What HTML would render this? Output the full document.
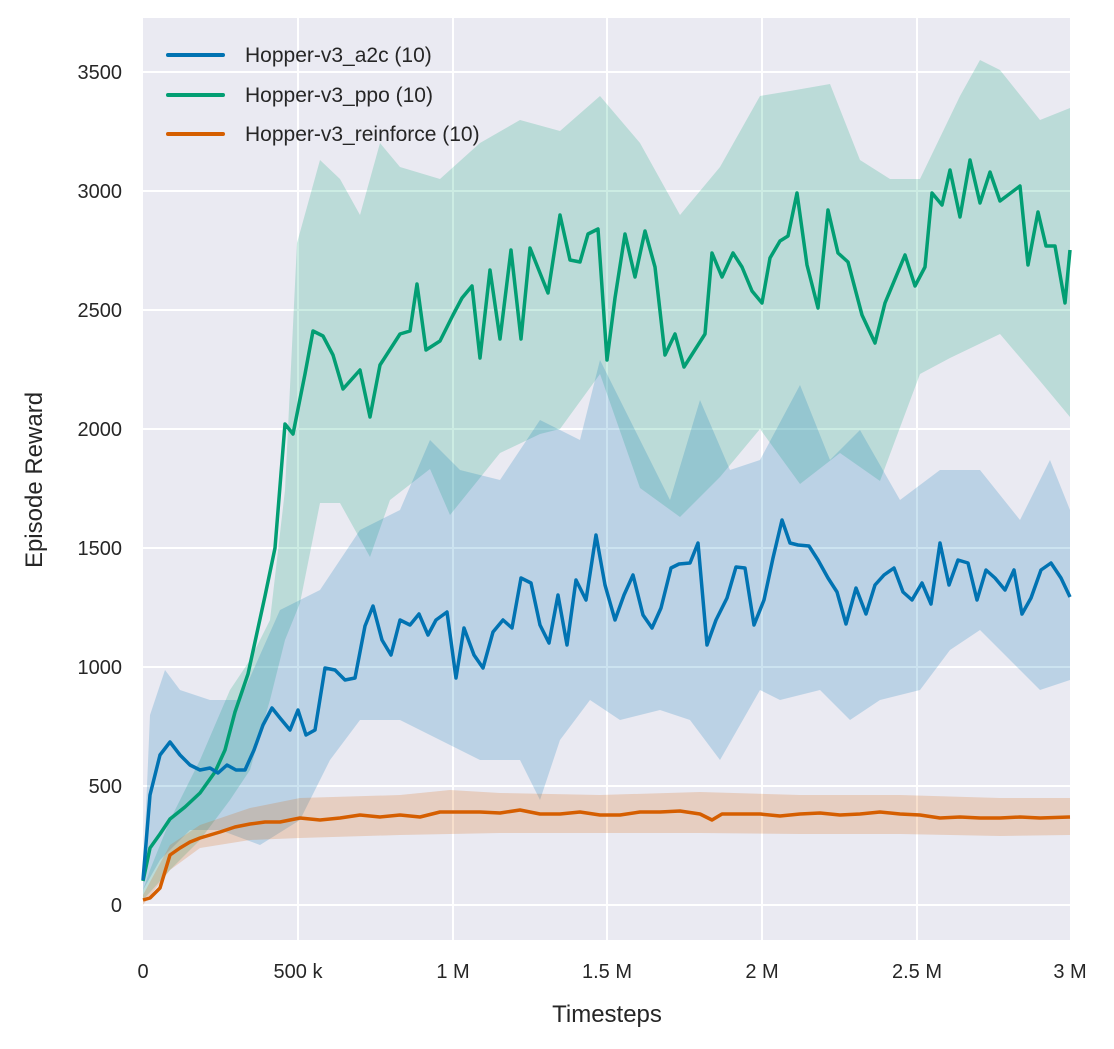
<!DOCTYPE html>
<html><head><meta charset="utf-8"><style>body{margin:0;background:#fff}svg{display:block}text{font-family:"Liberation Sans",Arial,sans-serif;fill:#262626}</style></head><body>
<svg width="1114" height="1049" xmlns="http://www.w3.org/2000/svg">
<rect x="143" y="18" width="927" height="922" fill="#eaeaf2"/>
<g stroke="#fff" stroke-width="2">
<line x1="298" y1="18" x2="298" y2="940"/><line x1="453" y1="18" x2="453" y2="940"/><line x1="607" y1="18" x2="607" y2="940"/><line x1="762" y1="18" x2="762" y2="940"/><line x1="917" y1="18" x2="917" y2="940"/>
<line x1="143" y1="72" x2="1070" y2="72"/><line x1="143" y1="191" x2="1070" y2="191"/><line x1="143" y1="310" x2="1070" y2="310"/><line x1="143" y1="429" x2="1070" y2="429"/><line x1="143" y1="548" x2="1070" y2="548"/><line x1="143" y1="667" x2="1070" y2="667"/><line x1="143" y1="786" x2="1070" y2="786"/><line x1="143" y1="905" x2="1070" y2="905"/>
</g>
<polygon fill="#029e73" fill-opacity="0.2" points="143,890 150,870 170,820 200,760 230,690 250,660 270,620 285,490 297,243 320,160 340,179 360,215 380,143 400,167 440,179 480,143 520,120 560,131 600,96 640,143 680,215 720,167 760,96 790,91 830,84 860,160 890,179 920,179 960,96 980,60 1000,70 1040,120 1070,108 1070,417 1040,381 1000,334 950,358 920,374 880,481 840,453 800,484 760,429 720,477 680,517 640,488 600,374 560,429 540,434 500,453 450,515 430,469 390,500 370,557 340,503 320,503 300,603 285,640 270,700 250,770 230,800 200,840 170,870 143,900"/>
<polygon fill="#0173b2" fill-opacity="0.2" points="143,880 150,715 165,670 180,690 210,700 240,700 280,610 320,590 360,530 400,510 430,440 460,470 500,480 540,420 580,440 600,360 640,440 670,500 700,400 730,470 760,460 800,385 830,460 860,430 900,500 940,470 980,470 1020,520 1050,460 1070,510 1070,680 1040,690 1010,660 980,630 950,650 920,690 880,700 850,720 820,690 780,700 760,690 720,760 690,720 660,710 620,720 590,700 560,740 540,800 520,760 480,760 450,745 400,720 360,720 330,760 300,820 260,845 220,830 190,830 160,860 143,890"/>
<polygon fill="#d55e00" fill-opacity="0.2" points="143,895 170,845 200,825 250,808 300,798 400,795 450,790 500,793 600,795 700,792 800,795 900,795 1000,798 1070,798 1070,835 1000,836 900,834 800,834 700,833 600,833 500,833 400,835 300,838 250,840 200,848 170,870 143,905"/>
<g fill="none" stroke-width="3.5" stroke-linejoin="round">
<polyline stroke="#029e73" points="143,881 150,848 160,834 170,819 185,807 200,793 215,772 225,750 235,712 248,674 265,596 275,548 285,424 293,434 305,374 313,331 323,336 333,355 343,389 360,370 370,417 380,365 400,334 410,331 417,284 426,350 440,341 453,315 462,298 472,286 480,358 490,270 500,339 511,250 521,339 530,248 548,293 560,215 570,260 580,262 588,234 598,229 607,360 615,298 625,234 635,277 645,231 655,267 665,355 675,334 684,367 705,334 712,253 722,277 733,253 742,267 752,291 762,303 770,258 780,241 788,236 797,193 807,265 818,308 828,210 838,253 848,262 862,315 875,343 885,303 905,255 915,286 925,267 932,193 942,205 950,170 960,217 970,160 980,203 990,172 1000,201 1020,186 1028,265 1038,212 1046,246 1055,246 1065,303 1070,250"/>
<polyline stroke="#0173b2" points="143,880 150,795 160,755 170,742 180,755 190,765 200,770 210,768 218,773 227,765 236,770 245,770 254,750 263,725 272,708 280,718 290,730 298,710 306,735 315,730 325,668 335,670 345,680 355,678 365,626 373,606 382,640 391,655 400,620 410,625 419,614 428,635 436,620 447,612 456,678 464,628 474,655 483,668 493,632 503,620 512,628 521,578 531,583 540,625 549,643 558,595 567,645 576,580 586,600 596,535 605,585 615,620 624,595 633,575 643,615 652,628 661,608 671,568 679,564 690,563 698,543 707,645 716,620 727,598 736,567 745,568 754,625 764,600 773,558 782,520 790,543 798,545 809,546 818,560 828,578 837,592 846,624 856,588 866,614 875,585 884,575 894,568 903,592 912,600 922,583 931,604 940,543 949,585 958,560 968,563 977,600 986,570 995,578 1005,590 1014,570 1022,614 1031,598 1041,570 1051,563 1061,578 1070,597"/>
<polyline stroke="#d55e00" points="143,900 150,898 160,888 170,855 180,848 190,842 200,838 210,835 220,832 235,827 250,824 265,822 280,822 300,818 320,820 340,818 360,815 380,817 400,815 420,817 440,812 460,812 480,812 500,813 520,810 540,814 560,814 580,812 600,815 620,815 640,812 660,812 680,811 700,814 712,820 722,814 740,814 760,814 780,816 800,814 820,813 840,815 860,814 880,812 900,814 920,815 940,818 960,817 980,818 1000,818 1020,817 1040,818 1070,817"/>
</g>
<g stroke-width="4" stroke-linecap="round">
<line x1="168" y1="55" x2="223" y2="55" stroke="#0173b2"/>
<line x1="168" y1="95" x2="223" y2="95" stroke="#029e73"/>
<line x1="168" y1="134" x2="223" y2="134" stroke="#d55e00"/>
</g>
<g font-size="21">
<text x="245" y="62">Hopper-v3_a2c (10)</text>
<text x="245" y="102">Hopper-v3_ppo (10)</text>
<text x="245" y="141">Hopper-v3_reinforce (10)</text>
</g>
<g font-size="20" text-anchor="end">
<text x="122" y="79">3500</text><text x="122" y="198">3000</text><text x="122" y="317">2500</text><text x="122" y="436">2000</text><text x="122" y="555">1500</text><text x="122" y="674">1000</text><text x="122" y="793">500</text><text x="122" y="912">0</text>
</g>
<g font-size="20" text-anchor="middle">
<text x="143" y="978">0</text><text x="298" y="978">500 k</text><text x="453" y="978">1 M</text><text x="607" y="978">1.5 M</text><text x="762" y="978">2 M</text><text x="917" y="978">2.5 M</text><text x="1070" y="978">3 M</text>
</g>
<text x="607" y="1022" font-size="24" text-anchor="middle">Timesteps</text>
<text x="0" y="0" font-size="24" text-anchor="middle" transform="translate(42,480) rotate(-90)">Episode Reward</text>
</svg>
</body></html>
